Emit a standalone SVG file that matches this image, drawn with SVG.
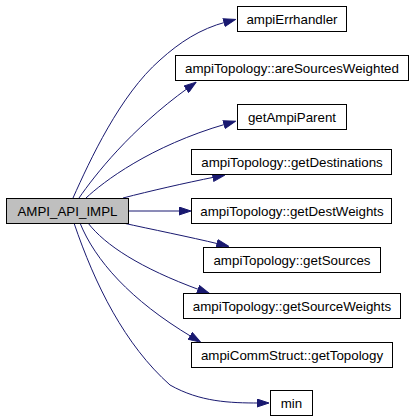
<svg xmlns="http://www.w3.org/2000/svg" width="411" height="419" viewBox="0 0 411 419">
<style>
.n rect{fill:#ffffff;stroke:#000000;stroke-width:1}
.n.root rect{fill:#bfbfbf}
.n text{font-family:"Liberation Sans",Arial,Helvetica,sans-serif;font-size:13.33px;fill:#000000;text-anchor:middle}
.e path{fill:none;stroke:#191970;stroke-width:1;marker-end:url(#ah)}
</style>
<defs>
<marker id="ah" markerUnits="userSpaceOnUse" viewBox="0 0 13 9" refX="2.5" refY="4.5" markerWidth="13" markerHeight="9" orient="auto">
<path d="M0.5,0.5 L12.5,4.5 L0.5,8.5 z" fill="#191970" stroke="#191970" stroke-width="1"/>
</marker>
</defs>
<g id="edges" class="e">
<path d="M73,198 C90,160 120,95 160,60 C180,42 200,29 226,22"/>
<path d="M79,198 C95,175 130,130 188,88"/>
<path d="M86,198 C103,182 150,146 226,124"/>
<path d="M123,198 C150,191 185,183 215,177"/>
<path d="M129,211 L181,211"/>
<path d="M123,223 C150,229 190,237 219,244"/>
<path d="M88,223 C105,245 140,268 200,290"/>
<path d="M80,223 C95,260 130,300 192,337"/>
<path d="M74,223 C95,285 125,345 170,385 C200,402 230,403 259,403"/>
</g>
<g id="AMPI_API_IMPL" class="n root"><rect x="6.5" y="198.5" width="122" height="25"/><text x="67.5" y="215.5">AMPI_API_IMPL</text></g>
<g id="ampiErrhandler" class="n"><rect x="237.5" y="6.5" width="109" height="25"/><text x="292" y="23.5">ampiErrhandler</text></g>
<g id="areSourcesWeighted" class="n"><rect x="175.5" y="55.5" width="233" height="25"/><text x="292" y="72.5">ampiTopology::areSourcesWeighted</text></g>
<g id="getAmpiParent" class="n"><rect x="237.5" y="104.5" width="109" height="25"/><text x="292" y="121.5">getAmpiParent</text></g>
<g id="getDestinations" class="n"><rect x="191.5" y="149.5" width="200" height="25"/><text x="292" y="166.5">ampiTopology::getDestinations</text></g>
<g id="getDestWeights" class="n"><rect x="191.5" y="198.5" width="200" height="25"/><text x="292" y="215.5">ampiTopology::getDestWeights</text></g>
<g id="getSources" class="n"><rect x="203.5" y="247.5" width="177" height="25"/><text x="292" y="264.5">ampiTopology::getSources</text></g>
<g id="getSourceWeights" class="n"><rect x="183.5" y="293.5" width="217" height="25"/><text x="292" y="310.5">ampiTopology::getSourceWeights</text></g>
<g id="getTopology" class="n"><rect x="191.5" y="342.5" width="201" height="25"/><text x="292" y="359.5">ampiCommStruct::getTopology</text></g>
<g id="min" class="n"><rect x="270.5" y="390.5" width="42" height="25"/><text x="291.5" y="407.5">min</text></g>
</svg>
